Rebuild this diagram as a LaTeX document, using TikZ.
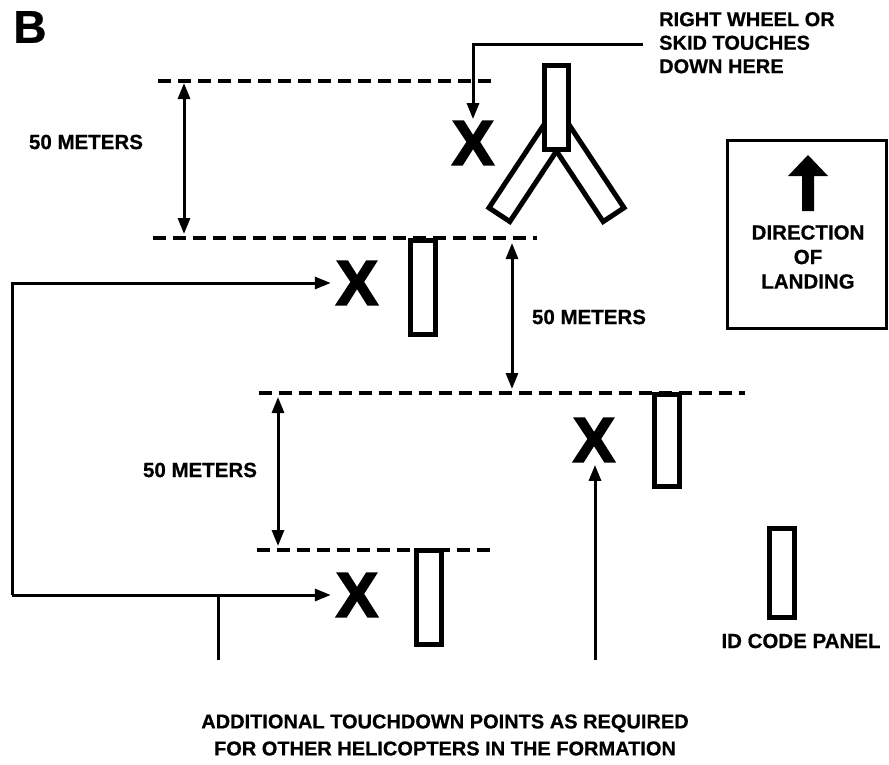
\documentclass[tikz,border=0pt]{standalone}
\usepackage{fontspec}
\setmainfont{Liberation Sans}[BoldFeatures={FakeBold=0.6}]
\newfontfamily\heavyfont{Liberation Sans}[BoldFeatures={FakeBold=3}]
\usetikzlibrary{arrows.meta}
\tikzset{
  dline/.style={line width=3.5pt, dash pattern=on 13pt off 7pt},
  panel/.style={draw, line width=5pt, fill=white, inner sep=0pt, minimum width=25pt, minimum height=92pt},
  tip/.style={-{Triangle[length=16pt,width=12pt]}},
  arr/.style={line width=3pt, tip},
  dim/.style={line width=3pt, {Triangle[length=16pt,width=12pt]}-{Triangle[length=16pt,width=12pt]}},
  lbl/.style={font=\fontsize{20.5}{24.5}\selectfont\bfseries, inner sep=0pt},
  xmark/.style={font=\fontsize{63}{63}\selectfont\heavyfont\bfseries, inner sep=0pt},
}
\begin{document}
\begin{tikzpicture}[x=1pt,y=-1pt]
\useasboundingbox (0,0) rectangle (889,764);
% title
\node[font=\fontsize{46}{46}\selectfont\bfseries, inner sep=0pt] (title) at (30,27) {B};
% dashed reference lines
\coordinate (d1a) at (158,81);  \coordinate (d1b) at (494,81);
\coordinate (d2a) at (153,238); \coordinate (d2b) at (537,238);
\coordinate (d3a) at (259,393); \coordinate (d3b) at (745,393);
\coordinate (d4a) at (257,550); \coordinate (d4b) at (493,550);
\draw[dline] (d1a) -- (d1b);
\draw[dline] (d2a) -- (d2b);
\draw[dline] (d3a) -- (d3b);
\draw[dline] (d4a) -- (d4b);
% lead helicopter skid panel (Y shape)
\node[panel, minimum height=100pt, rotate=-33.5] (legl) at (527,173) {};
\node[panel, minimum height=100pt, rotate=33.5] (legr) at (586,173) {};
\node[panel, minimum width=24pt, minimum height=84pt] (p1) at (556.5,107.5) {};
% other panels
\node[panel, minimum height=94pt] (p2) at (423,287.5) {};
\node[panel] (p3) at (666.5,440.5) {};
\node[panel, minimum height=94pt] (p4) at (428.5,597.5) {};
\node[panel, minimum height=89pt] (pid) at (782,573) {};
% touchdown marks
\node[xmark] (x1) at (473,143) {X};
\node[xmark] (x2) at (357,283) {X};
\node[xmark] (x3) at (594,440) {X};
\node[xmark] (x4) at (357,595) {X};
% dimension arrows
\coordinate (m1a) at (184,83);  \coordinate (m1b) at (184,234);
\coordinate (m2a) at (512,243); \coordinate (m2b) at (512,389);
\coordinate (m3a) at (278,397); \coordinate (m3b) at (278,546);
\draw[dim] (m1a) -- (m1b);
\draw[dim] (m2a) -- (m2b);
\draw[dim] (m3a) -- (m3b);
\node[lbl] (l1) at (86,142) {50 METERS};
\node[lbl] (l2) at (589,317) {50 METERS};
\node[lbl] (l3) at (200,470) {50 METERS};
% right wheel callout
\node[lbl, font=\fontsize{20}{23.5}\selectfont\bfseries, align=left, anchor=north west] (rw) at (659,12) {RIGHT WHEEL OR\\SKID TOUCHES\\DOWN HERE};
\coordinate (rwa) at (643,44);
\draw[arr, shorten >=2pt] (rwa) -| (x1.north);
% formation arrows
\coordinate (bl) at (12,595);
\coordinate (stub) at (218,660);
\coordinate (up) at (595,660);
\draw[arr, shorten >=5pt] (bl) |- (x2);
\draw[arr, shorten >=5pt] (bl) -- (x4);
\draw[line width=3pt] (stub) -- (stub |- bl);
\draw[arr, shorten >=3pt] (up) -- (up |- x3.south);
% direction of landing box
\node[draw, line width=3pt, minimum width=159pt, minimum height=188pt, inner sep=0pt] (dbox) at (807,234.5) {};
\fill (802,211) -- (802,176) -- (788,176) -- (808,155) -- (828,176) -- (814,176) -- (814,211) -- cycle;
\node[lbl, align=center] (dir) at (808,257) {DIRECTION\\OF\\LANDING};
\node[lbl] (idl) at (801,641) {ID CODE PANEL};
\node[lbl, align=center, font=\fontsize{20}{27}\selectfont\bfseries] (foot) at (445,735) {ADDITIONAL TOUCHDOWN POINTS AS REQUIRED\\FOR OTHER HELICOPTERS IN THE FORMATION};
\end{tikzpicture}
\end{document}
